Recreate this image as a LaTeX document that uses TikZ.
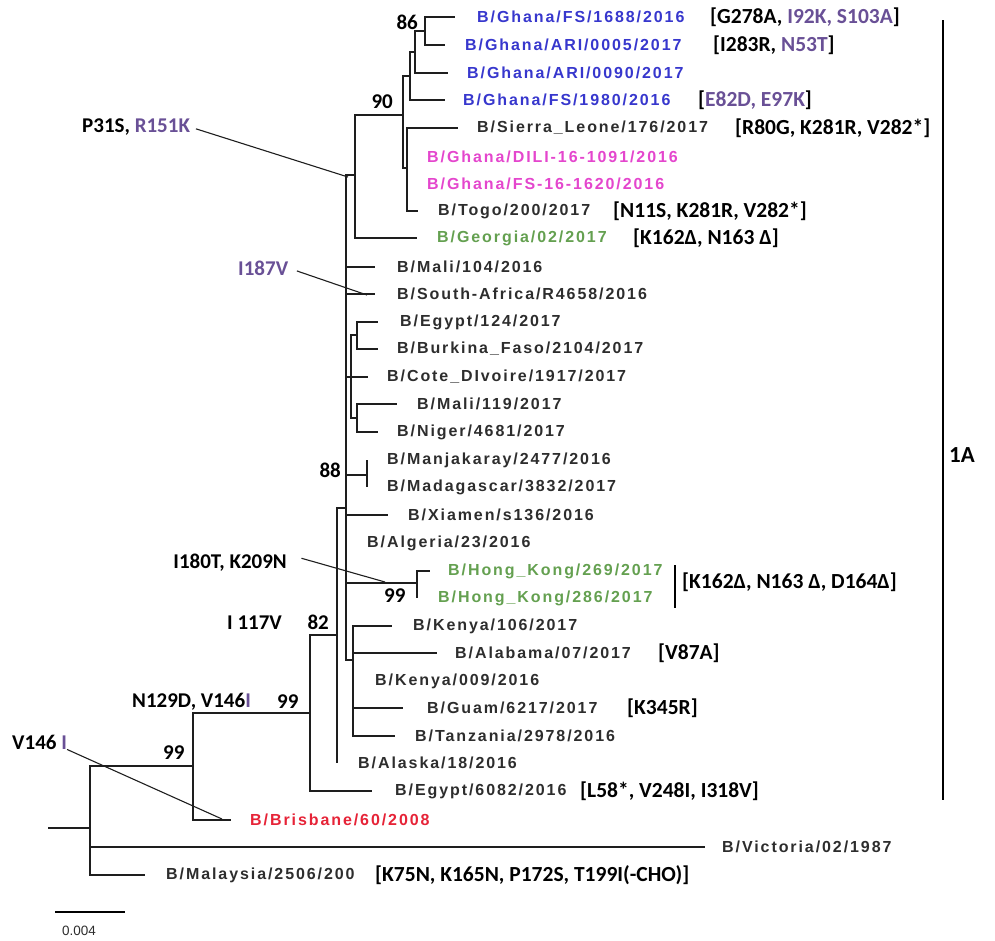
\documentclass[tikz,border=0pt]{standalone}
\usepackage{fontspec}
\setmainfont{Liberation Sans}
\newfontfamily\taxfont{Liberation Sans}[LetterSpace=12]
\newfontfamily\annfont{Carlito}
\definecolor{taxgray}{RGB}{45,45,45}
\definecolor{ghblue}{RGB}{55,55,205}
\definecolor{ghpink}{RGB}{228,70,205}
\definecolor{grn}{RGB}{100,160,80}
\definecolor{brred}{RGB}{230,35,55}
\definecolor{purp}{RGB}{105,80,150}
\definecolor{linec}{RGB}{30,30,30}
\tikzset{
  br/.style={line width=1.2pt, draw=linec},
  tax/.style={anchor=west, inner sep=0pt, text=taxgray, font=\taxfont\bfseries\fontsize{16}{18}\selectfont},
  ann/.style={anchor=west, inner sep=0pt, text=black, font=\annfont\bfseries\fontsize{21.5}{24}\selectfont},
  lab/.style={inner sep=0pt, text=black, font=\annfont\bfseries\fontsize{21}{24}\selectfont},
  mutline/.style={line width=1.1pt, draw=linec},
}
\begin{document}
\begin{tikzpicture}[x=1pt,y=-1pt]
\useasboundingbox (0,0) rectangle (995,940);
% ---- leaf tips ----
\coordinate (t0) at (455,17);
\coordinate (t1) at (445,45);
\coordinate (t2) at (448,73);
\coordinate (t3) at (445,100);
\coordinate (t4) at (458,128);
\coordinate (t5) at (407,157);
\coordinate (t6) at (407,184);
\coordinate (t7) at (418,211);
\coordinate (t8) at (417,238);
\coordinate (t9) at (375,267);
\coordinate (t10) at (375,294);
\coordinate (t11) at (378,322);
\coordinate (t12) at (378,349);
\coordinate (t13) at (368,377);
\coordinate (t14) at (397,404);
\coordinate (t15) at (378,432);
\coordinate (t16) at (367,460);
\coordinate (t17) at (367,487);
\coordinate (t18) at (388,515);
\coordinate (t19) at (346,543);
\coordinate (t20) at (430,571);
\coordinate (t21) at (417,598);
\coordinate (t22) at (392,626);
\coordinate (t23) at (437,653);
\coordinate (t24) at (353,681);
\coordinate (t25) at (403,708);
\coordinate (t26) at (395,736);
\coordinate (t27) at (337,763);
\coordinate (t28) at (372,791);
\coordinate (t29) at (231,820);
\coordinate (t30) at (705,847);
\coordinate (t31) at (145,875);
% ---- internal nodes ----
\coordinate (nA) at (425,31);
\coordinate (nB2) at (415,52);
\coordinate (nB) at (410,76);
\coordinate (nC) at (407,168);
\coordinate (n90) at (403,115);
\coordinate (nD) at (355,175);
\coordinate (nE) at (346,508);
\coordinate (nSub) at (351,377);
\coordinate (nEB) at (357,335);
\coordinate (nMN) at (357,418);
\coordinate (n88) at (367,475);
\coordinate (nHK) at (417,583);
\coordinate (nKen) at (353,660);
\coordinate (n82) at (337,635);
\coordinate (n99a) at (310,713);
\coordinate (n99b) at (193,766);
\coordinate (root) at (90,828);
\coordinate (rootstub) at (48,828);
% ---- branches ----
\draw[br] (nA) |- (t0);
\draw[br] (nA) |- (t1);
\draw[br] (nB2) |- (nA);
\draw[br] (nB2) |- (t2);
\draw[br] (nB) |- (nB2);
\draw[br] (nB) |- (t3);
\draw[br] (nC) |- (t4);
\draw[br] (nC) |- (t5);
\draw[br] (nC) |- (t6);
\draw[br] (nC) |- (t7);
\draw[br] (n90) |- (nB);
\draw[br] (n90) |- (nC);
\draw[br] (nD) |- (n90);
\draw[br] (nD) |- (t8);
\draw[br] (nE) |- (nD);
\draw[br] (nE) |- (t9);
\draw[br] (nE) |- (t10);
\draw[br] (nE) |- (nSub);
\draw[br] (nSub) |- (nEB);
\draw[br] (nSub) |- (t13);
\draw[br] (nSub) |- (nMN);
\draw[br] (nEB) |- (t11);
\draw[br] (nEB) |- (t12);
\draw[br] (nMN) |- (t14);
\draw[br] (nMN) |- (t15);
\draw[br] (nE) |- (n88);
\draw[br] (n88) |- (t16);
\draw[br] (n88) |- (t17);
\draw[br] (nE) |- (t18);
\draw[br] (nE) |- (t19);
\draw[br] (nE) |- (nHK);
\draw[br] (nHK) |- (t20);
\draw[br] (nHK) |- (t21);
\draw[br] (nE) |- (nKen);
\draw[br] (nKen) |- (t22);
\draw[br] (nKen) |- (t23);
\draw[br] (nKen) |- (t24);
\draw[br] (nKen) |- (t25);
\draw[br] (nKen) |- (t26);
\draw[br] (n82) |- (nE);
\draw[br] (n82) |- (t27);
\draw[br] (n99a) |- (n82);
\draw[br] (n99a) |- (t28);
\draw[br] (n99b) |- (n99a);
\draw[br] (n99b) |- (t29);
\draw[br] (root) |- (n99b);
\draw[br] (root) |- (t30);
\draw[br] (root) |- (t31);
\draw[br] (rootstub) -- (root);
\draw[br, line width=2.4pt] (nD -| nE) -- (nKen -| nE);
% ---- taxon labels ----
\node[tax, text=ghblue] (L0) at (477,17) {B/Ghana/FS/1688/2016};
\node[tax, text=ghblue] (L1) at (465,45) {B/Ghana/ARI/0005/2017};
\node[tax, text=ghblue] (L2) at (467,73) {B/Ghana/ARI/0090/2017};
\node[tax, text=ghblue] (L3) at (463,100) {B/Ghana/FS/1980/2016};
\node[tax] (L4) at (477,128) {B/Sierra\_Leone/176/2017};
\node[tax, text=ghpink] (L5) at (427,157) {B/Ghana/DILI-16-1091/2016};
\node[tax, text=ghpink] (L6) at (427,184) {B/Ghana/FS-16-1620/2016};
\node[tax] (L7) at (438,211) {B/Togo/200/2017};
\node[tax, text=grn] (L8) at (437,238) {B/Georgia/02/2017};
\node[tax] (L9) at (397,267) {B/Mali/104/2016};
\node[tax] (L10) at (397,294) {B/South-Africa/R4658/2016};
\node[tax] (L11) at (400,322) {B/Egypt/124/2017};
\node[tax] (L12) at (397,349) {B/Burkina\_Faso/2104/2017};
\node[tax] (L13) at (387,377) {B/Cote\_DIvoire/1917/2017};
\node[tax] (L14) at (417,404) {B/Mali/119/2017};
\node[tax] (L15) at (397,432) {B/Niger/4681/2017};
\node[tax] (L16) at (387,460) {B/Manjakaray/2477/2016};
\node[tax] (L17) at (387,487) {B/Madagascar/3832/2017};
\node[tax] (L18) at (408,515) {B/Xiamen/s136/2016};
\node[tax] (L19) at (367,543) {B/Algeria/23/2016};
\node[tax, text=grn] (L20) at (448,571) {B/Hong\_Kong/269/2017};
\node[tax, text=grn] (L21) at (438,598) {B/Hong\_Kong/286/2017};
\node[tax] (L22) at (413,626) {B/Kenya/106/2017};
\node[tax] (L23) at (455,653) {B/Alabama/07/2017};
\node[tax] (L24) at (375,681) {B/Kenya/009/2016};
\node[tax] (L25) at (427,708) {B/Guam/6217/2017};
\node[tax] (L26) at (415,736) {B/Tanzania/2978/2016};
\node[tax] (L27) at (358,763) {B/Alaska/18/2016};
\node[tax] (L28) at (395,791) {B/Egypt/6082/2016};
\node[tax, text=brred] (L29) at (250,820) {B/Brisbane/60/2008};
\node[tax] (L30) at (722,847) {B/Victoria/02/1987};
\node[tax] (L31) at (166,875) {B/Malaysia/2506/200};
% ---- annotations ----
\node[ann] (A0) at (710,17) {[G278A, \textcolor{purp}{I92K, S103A}]};
\node[ann] (A1) at (713,45) {[I283R, \textcolor{purp}{N53T}]};
\node[ann] (A3) at (698,100) {[\textcolor{purp}{E82D, E97K}]};
\node[ann] (A4) at (735,128) {[R80G, K281R, V282*]};
\node[ann] (A7) at (613,211) {[N11S, K281R, V282*]};
\node[ann] (A8) at (633,238) {[K162Δ, N163 Δ]};
\node[ann] (AHK) at (682,582) {[K162Δ, N163 Δ, D164Δ]};
\node[ann] (A23) at (658,653) {[V87A]};
\node[ann] (A25) at (627,708) {[K345R]};
\node[ann] (A28) at (580,791) {[L58*, V248I, I318V]};
\node[ann] (A31) at (375,875) {[K75N, K165N, P172S, T199I(-CHO)]};
\coordinate (hk1) at (675,565);
\coordinate (hk2) at (675,608);
\draw[line width=1.4pt] (hk1) -- (hk2);
% ---- support values and mutation labels ----
\node[lab, anchor=east] (b86) at (418,22) {86};
\node[lab, anchor=east] (b90) at (393,102) {90};
\node[lab, anchor=east] (b88) at (341,470) {88};
\node[lab, anchor=west] (b99hk) at (384,596) {99};
\node[lab, anchor=east] (b82) at (329,622) {82};
\node[lab, anchor=west] (mI117) at (227,623) {I 117V};
\node[lab, anchor=west] (b99a) at (277,702) {99};
\node[lab, anchor=west] (mN129) at (132,702) {N129D, V146\textcolor{purp}{I}};
\node[lab, anchor=west] (b99b) at (163,753) {99};
\node[lab, anchor=west] (mV146) at (12,742) {V146 \textcolor{purp}{I}};
\node[lab, anchor=west] (mP31) at (82,127) {P31S, \textcolor{purp}{R151K}};
\node[lab, anchor=west, text=purp] (mI187) at (238,268) {I187V};
\node[lab, anchor=east] (mI180) at (287,563) {I180T, K209N};
\coordinate (pP31) at (348,177);
\coordinate (pI187) at (367,295);
\coordinate (pI180) at (385,582);
\coordinate (pV146) at (222,819);
\draw[mutline, shorten <=6pt] (mP31.east) -- (pP31);
\draw[mutline, shorten <=9pt] (mI187.east) -- (pI187);
\draw[mutline, shorten <=15pt] (mI180.north east) -- (pI180);
\draw[mutline] (mV146.south east) -- (pV146);
% ---- clade bar ----
\coordinate (cb1) at (943,20);
\coordinate (cb2) at (943,800);
\draw[line width=1.5pt] (cb1) -- (cb2);
\node[lab, font=\annfont\bfseries\fontsize{23}{26}\selectfont] (c1A) at (962,455) {1A};
% ---- scale bar ----
\coordinate (sb1) at (55,912);
\coordinate (sb2) at (125,912);
\draw[line width=1.2pt] (sb1) -- (sb2);
\node[inner sep=0pt, font=\fontsize{13.5}{15}\selectfont, text=taxgray] (sbl) at (79,931) {0.004};
\end{tikzpicture}
\end{document}
